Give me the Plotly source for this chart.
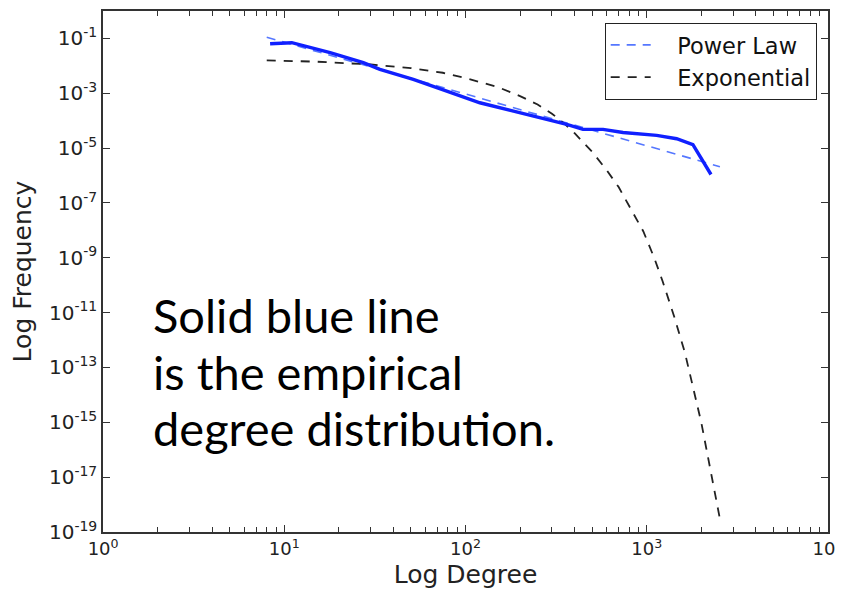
import plotly.graph_objects as go

# Empirical degree distribution (solid blue)
emp_degree = [8.35, 11.0, 17.9, 27.3, 33.7, 51.5, 78.8, 120, 184, 258, 362, 445, 574, 740, 1135, 1463, 1799, 2263]
emp_freq = [0.0641, 0.0697, 0.0301, 0.0130, 0.0074, 0.00319, 0.00119, 4.5e-4, 2.22e-4, 1.28e-4,
            7.3e-5, 4.8e-5, 4.8e-5, 3.7e-5, 2.9e-5, 2.2e-5, 1.35e-5, 1.09e-6]

# Power-law fit (blue dashed)
pl_degree = [8, 100, 1000, 2535]
pl_freq = [0.111, 9.3e-4, 1.2e-5, 2.1e-6]

# Exponential fit (black dashed)
ex_degree = [8, 15, 30, 50, 75, 100, 150, 200, 250, 300, 350, 400, 500, 600, 700, 800, 957,
             1100, 1224, 1419, 1626, 2000, 2381, 2535]
ex_freq = [1.58e-2, 1.42e-2, 1.12e-2, 8.3e-3, 5.6e-3, 3.6e-3, 1.7e-3, 7.9e-4, 3.9e-4, 1.8e-4, 8e-5,
           3.5e-5, 7.3e-6, 1.6e-6, 3.8e-7, 8e-8, 9.3e-9, 1.0e-9, 1.4e-10, 7.1e-12, 3.4e-13, 1e-15,
           2.6e-18, 3e-19]

y_exps = [-1, -3, -5, -7, -9, -11, -13, -15, -17, -19]
x_exps = [0, 1, 2, 3, 4]
minor_x = [m * 10 ** e for e in range(0, 4) for m in range(2, 10)]

fig = go.Figure()
fig.add_trace(go.Scatter(x=pl_degree, y=pl_freq, mode="lines", name="   Power Law",
                         line=dict(color="#5577ff", width=1.6, dash="9px,7px")))
fig.add_trace(go.Scatter(x=ex_degree, y=ex_freq, mode="lines", name="   Exponential",
                         line=dict(color="#222222", width=1.8, dash="9px,8px")))
fig.add_trace(go.Scatter(x=emp_degree, y=emp_freq, mode="lines", showlegend=False,
                         line=dict(color="#1020ff", width=3.4)))
# carrier trace for the minor-tick overlay axis (invisible)
fig.add_trace(go.Scatter(x=emp_degree, y=emp_freq, mode="lines", xaxis="x2", showlegend=False,
                         hoverinfo="skip", line=dict(width=0, color="rgba(0,0,0,0)")))

font_family = "DejaVu Sans"
fig.update_layout(
    width=843, height=585,
    margin=dict(l=95, r=23, t=3, b=61),
    plot_bgcolor="white", paper_bgcolor="white",
    font=dict(family=font_family, color="#222222"),
    legend=dict(x=0.9844, y=0.9775, xanchor="right", yanchor="top",
                bordercolor="#222222", borderwidth=1, bgcolor="white",
                font=dict(size=22.5, family=font_family, color="#111111"),
                tracegroupgap=0, itemwidth=40),
    showlegend=True,
    xaxis2=dict(type="log", range=[-0.0005, 4.0005], overlaying="x", anchor="y", side="bottom",
                automargin=False, tickmode="array", tickvals=minor_x, showticklabels=False,
                ticks="inside", ticklen=5, tickcolor="#333333", tickwidth=1,
                showline=False, mirror="ticks", showgrid=False, zeroline=False),
)
fig.layout.xaxis.update(
    type="log", range=[-0.0005, 4.0005], automargin=False, ticklabeloverflow="allow",
    tickvals=[10 ** e for e in x_exps],
    ticktext=[f"10<sup>{e}</sup>" for e in x_exps],
    ticks="inside", ticklen=7, tickcolor="#333333",
    showline=True, linecolor="#333333", linewidth=1.5, mirror="ticks",
    showgrid=False, zeroline=False,
    tickfont=dict(size=18, family=font_family, color="#222222"),
    title=dict(text="Log Degree", font=dict(size=25, family=font_family, color="#222222"), standoff=7),
)
fig.layout.yaxis.update(
    type="log", range=[-19, 0], automargin=False, ticklabeloverflow="allow",
    tickvals=[10 ** e for e in y_exps],
    ticktext=[f"10<sup>{e}</sup>" for e in y_exps],
    ticks="inside", ticklen=7, tickcolor="#333333",
    showline=True, linecolor="#333333", linewidth=1.5, mirror="ticks",
    showgrid=False, zeroline=False,
    tickfont=dict(size=20, family=font_family, color="#222222"),
    title=dict(text="Log Frequency", font=dict(size=25, family=font_family, color="#222222"), standoff=14),
)

lines = ["Solid blue line", "is the empirical", "degree distribution."]
line_y = [0.417, 0.308, 0.199]
for txt, yy in zip(lines, line_y):
    fig.add_annotation(text=txt, xref="paper", yref="paper", x=0.066, y=yy,
                       xanchor="left", yanchor="middle", showarrow=False,
                       font=dict(size=47, family="Lato", color="black"))

fig.write_html("out.html")
